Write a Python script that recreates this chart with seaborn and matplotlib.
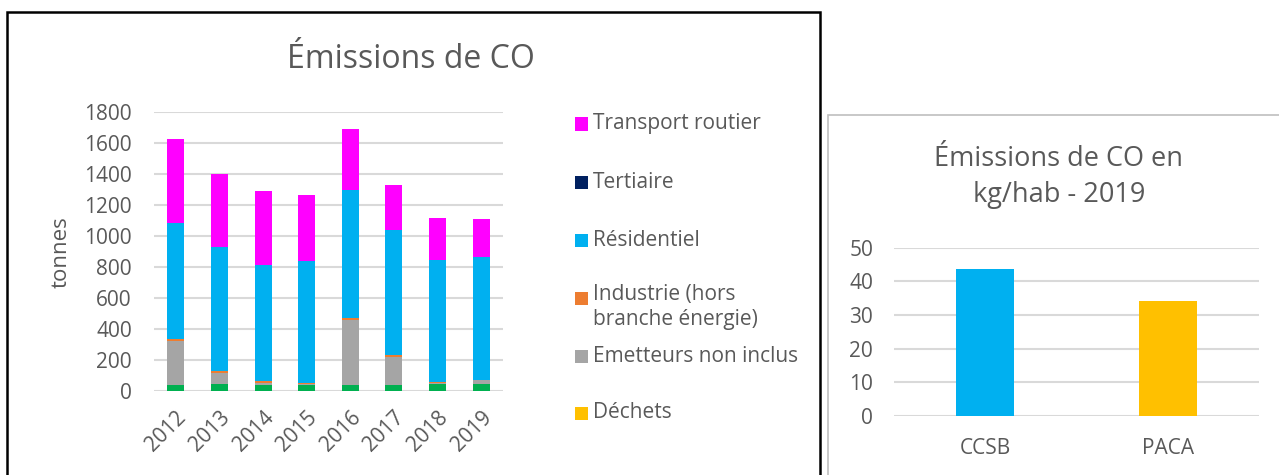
import numpy as np
import pandas as pd
import matplotlib
matplotlib.use("Agg")
import matplotlib.pyplot as plt
from matplotlib.patches import Rectangle
import seaborn as sns

# ---- data ----
years = ["2012", "2013", "2014", "2015", "2016", "2017", "2018", "2019"]
agriculture = [39, 43, 39, 39, 39, 39, 45, 45]          # green, bottom
dechets = [0, 0, 0, 0, 0, 0, 0, 0]
emetteurs = [284, 71, 13, 3, 417, 176, 7, 26]
industrie = [11, 13, 11, 8, 11, 15, 1, 1]
residentiel = [748, 800, 748, 789, 830, 807, 792, 793]
tertiaire = [0, 0, 0, 0, 0, 0, 0, 0]
transport = [542, 473, 475, 424, 393, 292, 267, 245]

series_names = ["Agriculture", "Déchets", "Emetteurs non inclus",
                "Industrie (hors\nbranche énergie)", "Résidentiel",
                "Tertiaire", "Transport routier"]
series_colors = ["#00B050", "#FFC000", "#A5A5A5", "#ED7D31", "#00B0F0",
                 "#002060", "#FF00FF"]
legend_shown = [False, True, True, True, True, True, True]

regions = ["CCSB", "PACA"]
kg_hab = [43.7, 34.2]
region_colors = ["#00B0F0", "#FFC000"]

TXT = "#595959"
GRID = "#D9D9D9"
FONT = ["Open Sans", "DejaVu Sans"]

sns.set_theme(style="white")
plt.rcParams["font.family"] = FONT

W, H = 1279, 475
fig = plt.figure(figsize=(W / 100, H / 100), dpi=100)

def fx(px):
    return px / W

def fy(py):
    return 1 - py / H

# frames
fig.patches.append(Rectangle((fx(7), fy(478)), fx(813), fy(12) - fy(478),
                             transform=fig.transFigure, fill=False,
                             edgecolor="black", linewidth=1.8))
fig.patches.append(Rectangle((fx(828), fy(478)), fx(460), fy(115) - fy(478),
                             transform=fig.transFigure, fill=False,
                             edgecolor="#BFBFBF", linewidth=1.2))

# ---- left stacked chart ----
ax = fig.add_axes([fx(154), fy(390.7), fx(503 - 154), fy(111.7) - fy(390.7)])
stack = np.array([agriculture, dechets, emetteurs, industrie,
                  residentiel, tertiaire, transport], dtype=float)
cum = np.cumsum(stack, axis=0)
for i in range(len(series_names) - 1, -1, -1):
    df = pd.DataFrame({"year": years, "val": cum[i]})
    sns.barplot(data=df, x="year", y="val", color=series_colors[i],
                saturation=1, width=0.39, ax=ax, edgecolor="none")
ax.set_ylim(0, 1800)
ax.set_yticks(np.arange(0, 1801, 200))
ax.set_xlim(-0.5, len(years) - 0.5)
ax.yaxis.grid(True, color=GRID, linewidth=1.5)
ax.set_axisbelow(True)
for s in ax.spines.values():
    s.set_visible(False)
ax.tick_params(axis="both", length=0, labelsize=15, labelcolor=TXT)
ax.tick_params(axis="y", pad=16)
ax.set_xlabel("")
ax.set_ylabel("")
for lab in ax.get_xticklabels():
    lab.set_rotation(45)
    lab.set_ha("right")
    lab.set_rotation_mode("anchor")
ax.tick_params(axis="x", pad=12)
fig.text(fx(61), fy(252), "tonnes", rotation=90, ha="center", va="center",
         fontsize=16, color=TXT)
fig.text(fx(411), fy(60), "Émissions de CO", ha="center", va="center",
         fontsize=23, color=TXT)

# legend drawn manually (top to bottom)
legend_y = {6: 124, 5: 182, 4: 240, 3: 298, 2: 356, 1: 413}
for i in range(len(series_names) - 1, -1, -1):
    if not legend_shown[i]:
        continue
    y = legend_y[i]
    fig.patches.append(Rectangle((fx(575), fy(y + 6.5)), fx(13), fy(y - 6.5) - fy(y + 6.5),
                                 transform=fig.transFigure,
                                 facecolor=series_colors[i], edgecolor="none"))
    if "\n" in series_names[i]:
        fig.text(fx(593), fy(y - 14), series_names[i], ha="left", va="top",
                 fontsize=15, color=TXT, linespacing=1.25)
    else:
        fig.text(fx(593), fy(y), series_names[i], ha="left", va="center",
                 fontsize=15, color=TXT)

# ---- right chart ----
ax2 = fig.add_axes([fx(894), fy(416), fx(1259 - 894), fy(247.7) - fy(416)])
df2 = pd.DataFrame({"region": regions, "val": kg_hab})
sns.barplot(data=df2, x="region", y="val", hue="region",
            palette=region_colors, saturation=1, width=0.317, ax=ax2,
            legend=False, edgecolor="none")
ax2.set_ylim(0, 50)
ax2.set_yticks(np.arange(0, 51, 10))
ax2.set_xlim(-0.5, 1.5)
ax2.yaxis.grid(True, color=GRID, linewidth=1.5)
ax2.set_axisbelow(True)
for s in ax2.spines.values():
    s.set_visible(False)
ax2.tick_params(axis="both", length=0, labelsize=15, labelcolor=TXT)
ax2.tick_params(axis="y", pad=15)
ax2.tick_params(axis="x", pad=16)
ax2.set_xlabel("")
ax2.set_ylabel("")
fig.text(fx(1059), fy(177), "Émissions de CO en\nkg/hab - 2019", ha="center",
         va="center", fontsize=19.5, color=TXT, linespacing=1.4)

fig.savefig("out.png", dpi=100, facecolor="white")
